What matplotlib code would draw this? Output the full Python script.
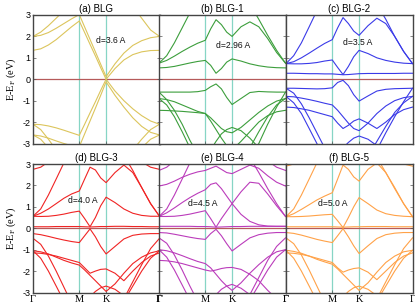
import numpy as np
import matplotlib
matplotlib.use('Agg')
import matplotlib.pyplot as plt

plt.rcParams['axes.unicode_minus'] = False

N = None
# k-path coordinates (Gamma-M-K-Gamma), M at index 6, K at index 11
KPTS = [0.0, 0.096, 0.192, 0.289, 0.385, 0.481, 0.577,
        0.644, 0.711, 0.778, 0.844, 0.911,
        1.022, 1.133, 1.244, 1.355, 1.466, 1.577]
K_TICKS = [0.0, 0.577, 0.911, 1.577]
K_LABELS = ['Γ', 'M', 'K', 'Γ']

TITLES = ['(a) BLG', '(b) BLG-1', '(c) BLG-2', '(d) BLG-3', '(e) BLG-4', '(f) BLG-5']
D_LABELS = ['d=3.6 A', 'd=2.96 A', 'd=3.5 A', 'd=4.0 A', 'd=4.5 A', 'd=5.0 A']
COLORS = ['#dcc55c', '#3c9e3c', '#3a3ae8', '#f02424', '#bb3cbb', '#ffa248']

BANDS_A = [
    [1.35, 1.42, 1.6, 1.85, 2.15, 2.45, 2.72, 2.18, 1.63, 1.09, 0.54, 0.0, 0.5, 0.9, 1.15, 1.28, 1.34, 1.35],
    [2.0, 2.05, 2.18, 2.38, 2.6, 2.82, 3.02, 2.44, 1.86, 1.28, 0.7, 0.12, 0.72, 1.22, 1.58, 1.8, 1.94, 2.0],
    [2.0, 2.2, 2.5, 2.85, 3.2, N, N, N, N, N, N, N, N, 4.0, 3.4, 2.85, 2.3, 2.0],
    [-2.1, -2.12, -2.18, -2.27, -2.38, -2.5, -2.62, -2.1, -1.57, -1.05, -0.52, 0.0, -0.55, -1.0, -1.38, -1.7, -1.95, -2.1],
    [-2.6, -2.65, -2.75, -2.88, -3.0, -3.1, -3.15, -2.55, -1.95, -1.35, -0.75, -0.12, -0.75, -1.3, -1.8, -2.2, -2.48, -2.6],
    [-2.6, -2.8, -3.2, N, N, N, N, N, N, N, N, N, N, N, N, -3.2, -2.8, -2.6],
    [-2.1, -2.35, -2.8, -3.3, N, N, N, N, N, N, N, N, N, N, -3.3, -2.8, -2.35, -2.1],
]
BANDS_B = [
    [0.53, 0.55, 0.6, 0.68, 0.76, 0.83, 0.88, 0.65, 0.28, 0.5, 0.8, 0.95, 0.85, 0.72, 0.63, 0.57, 0.54, 0.53],
    [0.75, 0.88, 1.08, 1.3, 1.5, 1.68, 1.82, 2.35, 2.78, 2.55, 2.2, 2.0, 2.45, 2.68, 2.45, 1.9, 1.25, 0.75],
    [0.75, 1.1, 1.7, 2.4, 3.1, 3.8, N, N, N, N, N, N, N, 3.5, 2.8, 2.05, 1.35, 0.75],
    [-0.6, -0.6, -0.6, -0.6, -0.6, -0.58, -0.52, -0.35, -0.22, -0.45, -0.85, -1.18, -0.9, -0.62, -0.57, -0.59, -0.6, -0.6],
    [-0.6, -0.95, -1.45, -2.1, -2.85, -3.5, N, N, N, N, N, N, N, -3.8, -3.0, -2.1, -1.3, -0.6],
    [-0.9, -0.95, -1.05, -1.2, -1.35, -1.5, -1.6, -1.8, -2.05, -2.3, -2.45, -2.5, -2.25, -1.9, -1.55, -1.25, -1.02, -0.9],
    [-1.45, -1.46, -1.48, -1.5, -1.53, -1.56, -1.6, -1.95, -2.35, -2.75, -3.1, -3.3, -2.9, -2.45, -2.0, -1.7, -1.52, -1.45],
    [-0.9, -1.2, -1.75, -2.45, -3.2, N, N, N, N, N, N, N, N, -3.2, -2.45, -1.75, -1.2, -0.9],
    [N, N, N, N, N, N, N, -3.3, -2.9, -2.55, -2.35, -2.25, -2.4, -2.75, -3.2, N, N, N],
]
BANDS_C = [
    [0.28, 0.28, 0.27, 0.26, 0.26, 0.25, 0.25, 0.23, 0.21, 0.22, 0.24, 0.26, 0.27, 0.27, 0.27, 0.27, 0.28, 0.28],
    [0.73, 0.72, 0.72, 0.74, 0.78, 0.85, 0.9, 0.55, 0.22, 0.6, 1.05, 1.35, 1.2, 1.0, 0.88, 0.8, 0.75, 0.73],
    [0.73, 0.82, 1.0, 1.22, 1.45, 1.67, 1.85, 2.4, 2.88, 2.6, 2.25, 2.05, 2.5, 2.85, 2.6, 2.0, 1.3, 0.73],
    [0.73, 1.1, 1.7, 2.45, 3.2, N, N, N, N, N, N, N, N, 3.5, 2.8, 2.0, 1.3, 0.73],
    [-0.42, -0.42, -0.43, -0.44, -0.45, -0.44, -0.4, -0.15, -0.05, -0.3, -0.72, -1.02, -0.78, -0.55, -0.47, -0.44, -0.43, -0.42],
    [-0.42, -0.65, -1.15, -1.8, -2.5, -3.2, N, N, N, N, N, N, N, -3.3, -2.5, -1.75, -1.05, -0.42],
    [-0.8, -0.82, -0.88, -0.95, -1.03, -1.12, -1.2, -1.45, -1.75, -2.05, -2.3, -2.4, -2.05, -1.6, -1.25, -1.0, -0.86, -0.8],
    [-1.3, -1.32, -1.38, -1.45, -1.55, -1.65, -1.75, -2.05, -2.3, -2.15, -1.95, -1.85, -2.05, -2.3, -2.0, -1.65, -1.42, -1.3],
    [-0.8, -1.1, -1.6, -2.3, -3.0, -3.7, N, N, N, N, N, N, -3.6, -2.9, -2.2, -1.55, -1.1, -0.8],
    [N, N, N, N, N, N, N, N, -3.2, -2.95, -2.75, -2.65, -2.8, -3.1, N, N, N, N],
]
BANDS_D = [
    [0.56, 0.7, 0.9, 1.15, 1.4, 1.6, 1.74, 2.3, 2.85, 2.72, 2.35, 2.13, 2.6, 2.95, 2.6, 1.9, 1.15, 0.56],
    [0.56, 0.55, 0.56, 0.6, 0.66, 0.74, 0.8, 0.45, 0.07, 0.5, 1.05, 1.45, 1.2, 0.9, 0.7, 0.6, 0.56, 0.56],
    [0.56, 0.9, 1.55, 2.3, 3.05, N, N, N, N, N, N, N, N, 3.4, 2.7, 1.9, 1.15, 0.56],
    [2.75, 2.85, 3.1, N, N, N, N, N, N, N, N, N, N, N, N, 3.1, 2.85, 2.75],
    [0.07, 0.07, 0.07, 0.08, 0.08, 0.08, 0.08, 0.07, 0.06, 0.07, 0.08, 0.08, 0.09, 0.09, 0.08, 0.08, 0.07, 0.07],
    [-0.25, -0.3, -0.38, -0.47, -0.55, -0.62, -0.67, -0.35, -0.03, -0.4, -0.85, -1.2, -0.85, -0.5, -0.33, -0.27, -0.25, -0.25],
    [-0.47, -0.75, -1.3, -2.0, -2.75, -3.5, N, N, N, N, N, N, N, -3.3, -2.5, -1.7, -0.95, -0.47],
    [-1.05, -1.1, -1.2, -1.35, -1.5, -1.62, -1.72, -1.95, -2.2, -2.45, -2.7, -2.95, -2.6, -2.1, -1.65, -1.35, -1.15, -1.05],
    [-1.15, -1.17, -1.22, -1.3, -1.4, -1.5, -1.6, -1.85, -2.1, -2.0, -1.92, -1.9, -2.1, -2.45, -2.0, -1.6, -1.3, -1.15],
    [-1.05, -1.4, -2.0, -2.7, -3.4, N, N, N, N, N, N, N, N, -3.4, -2.7, -2.0, -1.4, -1.05],
    [N, N, N, N, N, N, N, N, -3.2, -2.95, -2.78, -2.7, -2.85, -3.15, N, N, N, N],
]
BANDS_E = [
    [0.55, 0.72, 0.95, 1.2, 1.43, 1.63, 1.8, 2.05, 2.12, 1.85, 1.5, 1.15, 0.65, 0.32, 0.16, 0.1, 0.09, 0.09],
    [0.55, 0.55, 0.56, 0.6, 0.66, 0.74, 0.82, 0.45, 0.05, 0.45, 0.8, 1.15, 1.7, 2.15, 2.1, 1.6, 1.05, 0.55],
    [0.55, 0.9, 1.55, 2.3, 3.05, N, N, N, N, N, N, N, N, 3.3, 2.6, 1.85, 1.15, 0.55],
    [1.97, 2.05, 2.2, 2.38, 2.52, 2.63, 2.7, 2.8, 2.9, 2.75, 2.6, 2.55, 2.75, 2.95, 2.8, 2.45, 2.15, 1.97],
    [2.7, 2.85, 3.15, N, N, N, N, N, N, N, N, N, N, N, N, 3.15, 2.85, 2.7],
    [0.09, 0.09, 0.09, 0.09, 0.09, 0.08, 0.08, 0.07, 0.05, 0.06, 0.07, 0.08, 0.08, 0.09, 0.09, 0.09, 0.09, 0.09],
    [-0.2, -0.22, -0.28, -0.35, -0.42, -0.48, -0.52, -0.25, -0.05, -0.35, -0.72, -1.06, -0.75, -0.45, -0.3, -0.23, -0.2, -0.2],
    [-0.45, -0.7, -1.25, -1.95, -2.7, -3.4, N, N, N, N, N, N, N, -3.1, -2.3, -1.5, -0.85, -0.45],
    [-1.0, -1.05, -1.15, -1.28, -1.42, -1.55, -1.65, -1.85, -2.15, -2.45, -2.7, -2.9, -2.55, -2.1, -1.7, -1.35, -1.1, -1.0],
    [-1.0, -1.35, -1.95, -2.65, -3.35, N, N, N, N, N, N, N, N, -3.35, -2.65, -1.95, -1.35, -1.0],
    [-1.5, -1.52, -1.57, -1.65, -1.75, -1.85, -1.95, -2.0, -1.95, -1.88, -1.84, -1.83, -1.92, -2.15, -2.45, -2.9, -3.3, N],
    [N, N, N, N, N, N, N, N, -3.1, -2.85, -2.7, -2.62, -2.8, -3.1, N, N, N, N],
]
BANDS_F = [
    [0.54, 0.68, 0.88, 1.1, 1.32, 1.5, 1.66, 2.3, 2.95, 2.75, 2.4, 2.2, 2.75, 3.05, 2.6, 1.9, 1.15, 0.54],
    [0.54, 0.54, 0.55, 0.57, 0.6, 0.63, 0.65, 0.35, 0.03, 0.5, 1.0, 1.43, 1.15, 0.85, 0.68, 0.6, 0.56, 0.54],
    [0.54, 0.9, 1.55, 2.3, 3.05, N, N, N, N, N, N, N, N, 3.3, 2.6, 1.85, 1.15, 0.54],
    [2.9, 3.0, 3.2, N, N, N, N, N, N, N, N, N, N, N, N, 3.2, 3.0, 2.9],
    [0.07, 0.07, 0.07, 0.07, 0.07, 0.07, 0.07, 0.06, 0.05, 0.06, 0.07, 0.07, 0.08, 0.08, 0.08, 0.07, 0.07, 0.07],
    [-0.2, -0.24, -0.32, -0.42, -0.52, -0.6, -0.67, -0.35, -0.02, -0.4, -0.82, -1.18, -0.82, -0.48, -0.3, -0.23, -0.2, -0.2],
    [-0.45, -0.72, -1.25, -1.95, -2.7, -3.45, N, N, N, N, N, N, N, -3.3, -2.5, -1.7, -0.95, -0.45],
    [-1.03, -1.08, -1.17, -1.3, -1.45, -1.57, -1.68, -1.9, -2.15, -2.4, -2.65, -2.9, -2.55, -2.05, -1.6, -1.3, -1.1, -1.03],
    [-1.03, -1.4, -2.0, -2.7, -3.4, N, N, N, N, N, N, N, N, -3.4, -2.7, -2.0, -1.4, -1.03],
    [-1.15, -1.17, -1.22, -1.3, -1.4, -1.5, -1.6, -1.85, -2.05, -1.95, -1.88, -1.85, -2.05, -2.4, -2.0, -1.6, -1.3, -1.15],
    [N, N, N, N, N, N, N, N, -3.2, -2.95, -2.78, -2.7, -2.85, -3.15, N, N, N, N],
]
ALL_BANDS = [BANDS_A, BANDS_B, BANDS_C, BANDS_D, BANDS_E, BANDS_F]
D_POS = [(0.78, 1.8), (0.71, 1.57), (0.71, 1.73), (0.44, 1.28), (0.36, 1.15), (0.4, 1.15)]

W, H = 415, 307
fig = plt.figure(figsize=(W / 100, H / 100), dpi=100)
col_left = [33, 159, 286]
col_w = 126.5
row_top = [15, 164]
row_h = 128.5

SANS = 'Liberation Sans'
SERIF = 'Liberation Serif'

for i in range(6):
    r, c = divmod(i, 3)
    l = col_left[c] / W
    b = 1 - (row_top[r] + row_h) / H
    ax = fig.add_axes([l, b, col_w / W, row_h / H])
    ax.set_xlim(K_TICKS[0], K_TICKS[-1])
    ax.set_ylim(-3, 3)
    for kx in K_TICKS[1:3]:
        ax.axvline(kx, color='#86d5c5', lw=0.9, zorder=1)
    ax.axhline(0, color='#b65a5a', lw=0.9, zorder=1)
    for band in ALL_BANDS[i]:
        y = np.array([np.nan if v is None else v for v in band], dtype=float)
        ax.plot(KPTS, y, color=COLORS[i], lw=0.8, zorder=2, solid_joinstyle='round')
    ax.text(D_POS[i][0], D_POS[i][1], D_LABELS[i], fontsize=6.2, family=SANS,
            va='center', ha='left', color='#111111', zorder=3)
    ax.set_title(TITLES[i], fontsize=7, family=SANS, pad=2.5)
    ax.set_yticks([-3, -2, -1, 0, 1, 2, 3])
    ax.set_xticks(K_TICKS)
    ax.tick_params(axis='both', direction='in', length=2, width=0.5,
                   labelsize=6.5, pad=2, right=True, color='#555555')
    if c == 0:
        for t in ax.get_yticklabels():
            t.set_family(SANS)
        ax.set_ylabel('E-E$_\\mathregular{F}$ (eV)', fontsize=7.5, family=SERIF, labelpad=3)
    else:
        ax.set_yticklabels([])
    if r == 1:
        ax.set_xticklabels(K_LABELS, fontsize=7.5, family=SERIF)
    else:
        ax.set_xticklabels([])
    for s in ax.spines.values():
        s.set_linewidth(1.0)
        s.set_color('#444444')

fig.savefig('out.png', dpi=100)
